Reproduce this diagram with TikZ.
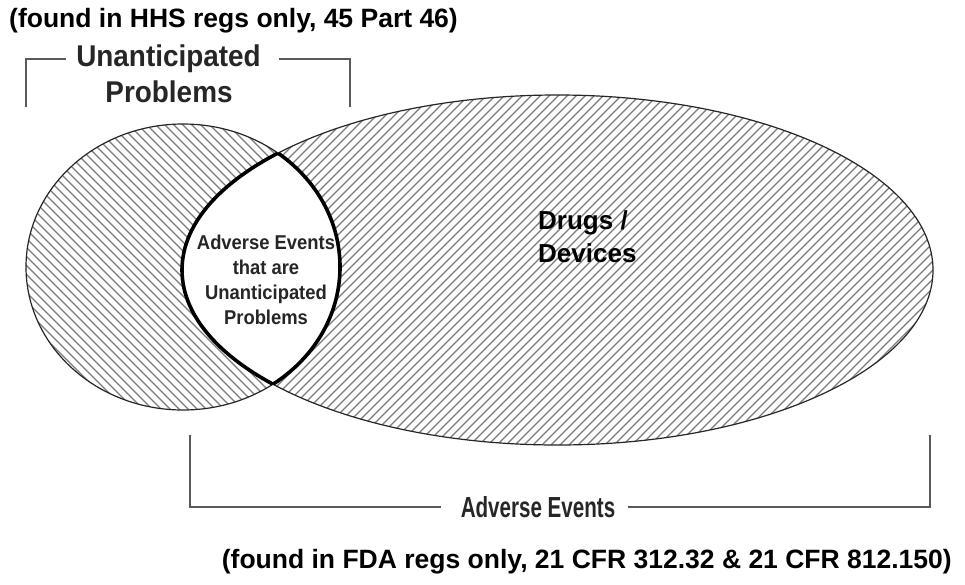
\documentclass[tikz,border=0pt]{standalone}
\usepackage{fontspec}
\setmainfont{Liberation Sans}
\newfontfamily\upfont[FakeStretch=0.93]{Liberation Sans}
\newfontfamily\aefont[FakeStretch=0.71]{Liberation Sans}
\newfontfamily\lensfont[FakeStretch=0.92]{Liberation Sans}
\begin{document}
\begin{tikzpicture}[x=1pt,y=-1pt,
  hatchline/.style={draw=black!52,line width=1.25pt},
  outline/.style={draw=black!85,line width=1.2pt},
  lensline/.style={draw=black,line width=3.6pt},
  bracket/.style={draw=black!65,line width=1.6pt},
  title/.style={font=\bfseries\fontsize{26.5}{30}\selectfont,inner sep=0pt},
  uplbl/.style={font=\upfont\bfseries\fontsize{30}{34}\selectfont,text=black!85,inner sep=0pt},
  aelbl/.style={font=\aefont\bfseries\fontsize{29}{34}\selectfont,text=black!85,inner sep=0pt},
  inner/.style={font=\lensfont\bfseries\fontsize{20}{25}\selectfont,text=black!85,align=center,inner sep=0pt},
  drugs/.style={font=\bfseries\fontsize{26}{33}\selectfont,align=left,inner sep=0pt}]
\useasboundingbox (0,0) rectangle (965,584);
\fill[white] (0,0) rectangle (965,584);
% hatching of the small ellipse
\begin{scope}
  \clip (183,267) ellipse [x radius=157, y radius=143];
  \foreach \i in {-400,-391,...,700} \draw[hatchline] (\i,100) -- ++(350,350);
\end{scope}
% hatching of the big ellipse
\begin{scope}
  \clip (557.5,270) ellipse [x radius=375.5, y radius=175];
  \foreach \i in {150,159,...,1320} \draw[hatchline] (\i,90) -- ++(-360,360);
\end{scope}
% white lens
\begin{scope}
  \clip (183,267) ellipse [x radius=157, y radius=143];
  \fill[white] (557.5,270) ellipse [x radius=375.5, y radius=175];
\end{scope}
\draw[outline] (183,267) ellipse [x radius=157, y radius=143];
\draw[outline] (557.5,270) ellipse [x radius=375.5, y radius=175];
\begin{scope}
  \clip (183,267) ellipse [x radius=157, y radius=143];
  \draw[lensline] (557.5,270) ellipse [x radius=375.5, y radius=175];
\end{scope}
\begin{scope}
  \clip (557.5,270) ellipse [x radius=375.5, y radius=175];
  \draw[lensline] (183,267) ellipse [x radius=157, y radius=143];
\end{scope}
% texts
\node[title,anchor=base west] (t1) at (9,27) {(found in HHS regs only, 45 Part 46)};
\node[uplbl] (up1) at (168.5,59) {Unanticipated};
\node[uplbl,anchor=base] (up2) at (169,102) {Problems};
\node[inner] (lens) at (266,280) {Adverse Events\\that are\\Unanticipated\\Problems};
\node[drugs,anchor=base west] (dd) at (538,262) {Drugs /\\Devices};
\node[aelbl] (ae) at (538,507) {Adverse Events};
\node[title,anchor=base east] (t2) at (952,568) {(found in FDA regs only, 21 CFR 312.32 \& 21 CFR 812.150)};
% brackets
\coordinate (tl) at (26,107);
\coordinate (tr) at (350,107);
\coordinate (bl) at (190,435);
\coordinate (br) at (930,435);
\draw[bracket] (tl) |- ([xshift=-10pt]up1.west);
\draw[bracket] (tr) |- ([xshift=18pt]up1.east);
\draw[bracket] (bl) |- ([xshift=-20pt]ae.west);
\draw[bracket] (br) |- ([xshift=13pt]ae.east);
\end{tikzpicture}
\end{document}
